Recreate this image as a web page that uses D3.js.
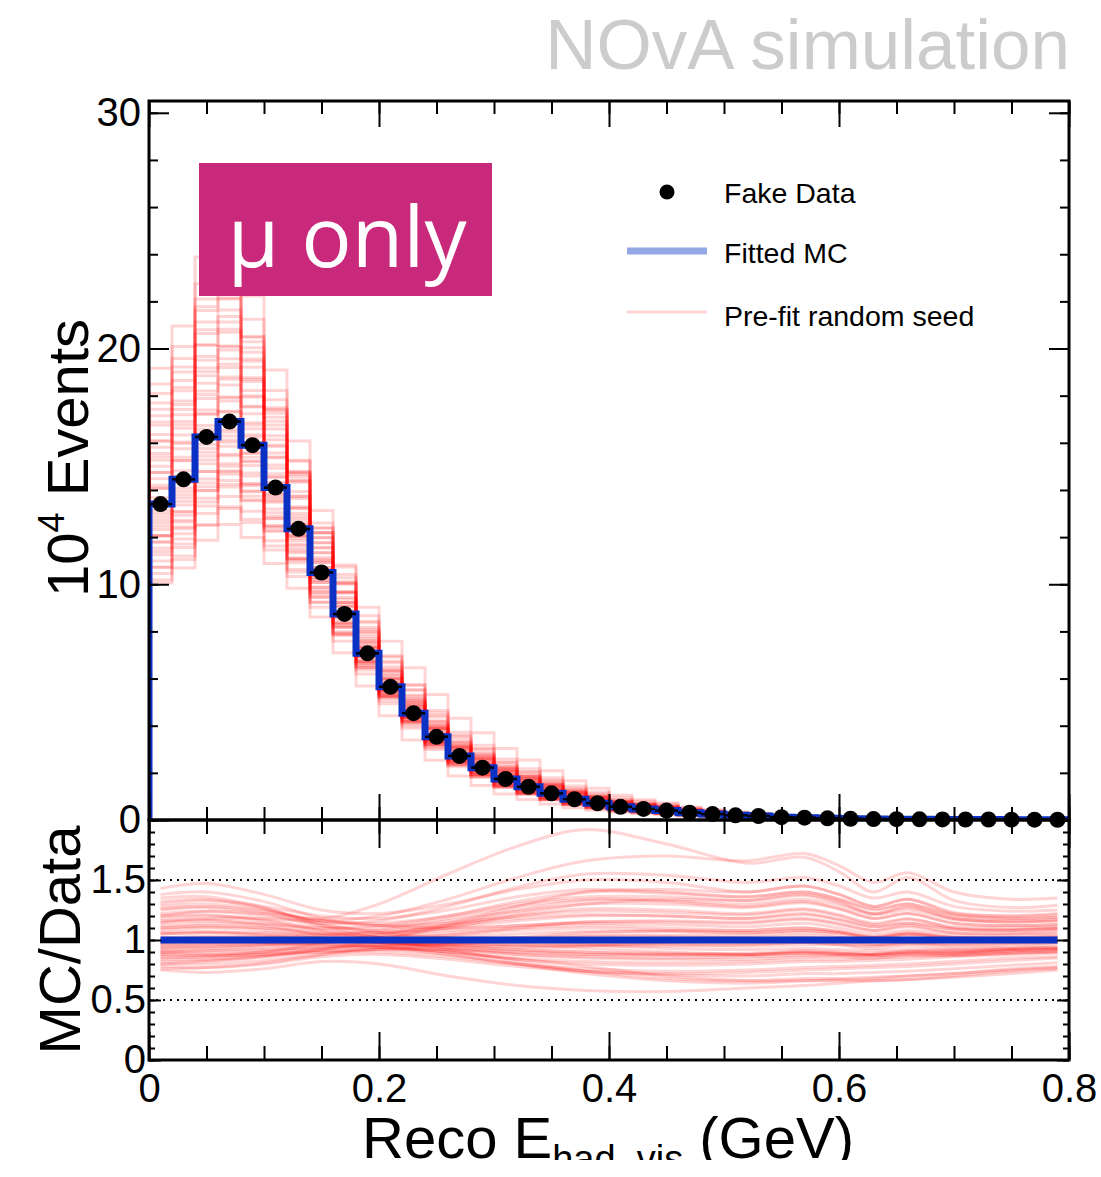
<!DOCTYPE html>
<html lang="en">
<head>
<meta charset="UTF-8">
<title>NOvA simulation - mu only</title>
<script src="https://d3js.org/d3.v7.min.js"></script>
<style>
    body { margin: 0; background: #fff; }
    svg text { font-family: "Liberation Sans", Arial, Helvetica, sans-serif; }
</style>
</head>
<body>
<svg id="chart" width="1101" height="1177"></svg>
<script>
// 40 bins of 0.02 GeV between 0 and 0.8, values in 10^4 events
const binWidth = 0.02;
const fakeData = [13.4, 14.45, 16.25, 16.9, 15.9, 14.1, 12.35, 10.5, 8.74, 7.07,
                  5.65, 4.53, 3.53, 2.72, 2.22, 1.74, 1.41, 1.13, 0.88, 0.71,
                  0.56, 0.47, 0.40, 0.31, 0.25, 0.20, 0.17, 0.12, 0.10, 0.07,
                  0.05, 0.04, 0.035, 0.03, 0.025, 0.02, 0.02, 0.015, 0.012, 0.01];
// fitted MC lies on the fake data (ratio 1 everywhere)
const fittedMC = fakeData.slice();

// pre-fit random seeds: MC/Data ratio read at these energies
const seedKnots = [0.01, 0.05, 0.10, 0.15, 0.20, 0.26, 0.32, 0.38, 0.45, 0.52, 0.57, 0.60, 0.63, 0.66, 0.70, 0.75, 0.79];
const seedRatios = [
    [1.43, 1.47, 1.38, 1.25, 1.22, 1.30, 1.42, 1.50, 1.48, 1.40, 1.45, 1.38, 1.28, 1.34, 1.22, 1.20, 1.22],
    [1.20, 1.24, 1.22, 1.18, 1.30, 1.55, 1.78, 1.92, 1.80, 1.64, 1.69, 1.57, 1.40, 1.52, 1.33, 1.27, 1.29],
    [0.75, 0.73, 0.76, 0.82, 0.80, 0.70, 0.62, 0.58, 0.57, 0.60, 0.62, 0.64, 0.66, 0.67, 0.70, 0.74, 0.76],
    [1.30, 1.33, 1.28, 1.20, 1.18, 1.25, 1.36, 1.42, 1.40, 1.36, 1.40, 1.34, 1.26, 1.30, 1.20, 1.18, 1.19],
    [1.35, 1.36, 1.27, 1.12, 1.02, 0.96, 0.94, 0.95, 0.98, 1.00, 1.02, 1.00, 0.96, 0.98, 0.95, 0.96, 0.98],
    [0.80, 0.82, 0.86, 0.92, 1.00, 1.12, 1.25, 1.33, 1.32, 1.28, 1.32, 1.26, 1.18, 1.22, 1.14, 1.12, 1.13],
    [1.10, 1.12, 1.10, 1.05, 1.03, 1.04, 1.08, 1.10, 1.08, 1.06, 1.08, 1.06, 1.02, 1.05, 1.02, 1.02, 1.03],
    [0.90, 0.89, 0.90, 0.93, 0.94, 0.90, 0.85, 0.82, 0.81, 0.82, 0.84, 0.84, 0.85, 0.86, 0.87, 0.89, 0.90],
    [1.25, 1.27, 1.22, 1.12, 1.08, 1.12, 1.18, 1.21, 1.20, 1.18, 1.22, 1.17, 1.11, 1.14, 1.09, 1.08, 1.10],
    [0.85, 0.86, 0.90, 0.97, 1.02, 1.06, 1.10, 1.12, 1.10, 1.08, 1.10, 1.07, 1.03, 1.06, 1.02, 1.01, 1.00],
    [1.05, 1.06, 1.04, 1.00, 0.96, 0.90, 0.84, 0.80, 0.79, 0.80, 0.82, 0.82, 0.83, 0.84, 0.86, 0.88, 0.89],
    [0.95, 0.96, 0.97, 0.98, 1.02, 1.10, 1.20, 1.26, 1.25, 1.22, 1.26, 1.21, 1.14, 1.18, 1.10, 1.09, 1.10],
    [1.15, 1.17, 1.14, 1.08, 1.06, 1.08, 1.12, 1.14, 1.13, 1.11, 1.14, 1.10, 1.05, 1.08, 1.04, 1.04, 1.05],
    [0.78, 0.77, 0.80, 0.86, 0.88, 0.84, 0.78, 0.74, 0.72, 0.73, 0.75, 0.76, 0.77, 0.78, 0.80, 0.83, 0.85],
    [1.38, 1.40, 1.32, 1.18, 1.12, 1.10, 1.12, 1.15, 1.15, 1.14, 1.17, 1.13, 1.08, 1.11, 1.06, 1.06, 1.08],
    [1.00, 1.01, 1.00, 0.99, 0.98, 0.97, 0.96, 0.95, 0.95, 0.95, 0.96, 0.96, 0.95, 0.97, 0.97, 0.98, 0.99],
    [0.88, 0.87, 0.88, 0.90, 0.90, 0.86, 0.80, 0.76, 0.74, 0.75, 0.77, 0.78, 0.79, 0.80, 0.82, 0.85, 0.86],
    [1.22, 1.24, 1.20, 1.14, 1.16, 1.28, 1.44, 1.55, 1.54, 1.48, 1.52, 1.45, 1.35, 1.40, 1.28, 1.24, 1.25],
    [0.92, 0.93, 0.95, 0.98, 1.00, 1.00, 0.99, 0.98, 0.97, 0.97, 0.98, 0.97, 0.96, 0.97, 0.96, 0.97, 0.98],
    [1.08, 1.10, 1.08, 1.02, 0.98, 0.94, 0.90, 0.88, 0.88, 0.88, 0.90, 0.89, 0.88, 0.90, 0.90, 0.92, 0.93],
    [0.82, 0.83, 0.86, 0.90, 0.92, 0.92, 0.90, 0.88, 0.87, 0.87, 0.89, 0.88, 0.88, 0.89, 0.89, 0.91, 0.92],
    [1.18, 1.20, 1.17, 1.10, 1.10, 1.18, 1.28, 1.34, 1.33, 1.30, 1.34, 1.29, 1.21, 1.25, 1.17, 1.15, 1.16],
    [0.98, 1.00, 1.01, 1.02, 1.05, 1.14, 1.28, 1.40, 1.42, 1.40, 1.45, 1.38, 1.28, 1.34, 1.23, 1.20, 1.21],
    [1.02, 1.03, 1.02, 1.00, 0.98, 0.95, 0.92, 0.90, 0.89, 0.89, 0.91, 0.90, 0.89, 0.91, 0.91, 0.93, 0.94],
    [0.86, 0.86, 0.88, 0.91, 0.92, 0.88, 0.80, 0.72, 0.66, 0.64, 0.66, 0.67, 0.68, 0.70, 0.72, 0.76, 0.78],
    [1.28, 1.30, 1.25, 1.16, 1.12, 1.14, 1.20, 1.24, 1.23, 1.21, 1.25, 1.20, 1.13, 1.17, 1.11, 1.10, 1.11],
    [0.94, 0.95, 0.96, 0.96, 0.95, 0.92, 0.88, 0.86, 0.85, 0.86, 0.87, 0.87, 0.87, 0.88, 0.88, 0.90, 0.91],
    [1.12, 1.14, 1.13, 1.10, 1.12, 1.20, 1.32, 1.40, 1.39, 1.36, 1.40, 1.34, 1.25, 1.30, 1.21, 1.18, 1.19],
    [0.80, 0.80, 0.83, 0.88, 0.92, 0.96, 1.00, 1.03, 1.03, 1.02, 1.04, 1.02, 0.99, 1.01, 0.99, 0.99, 1.00],
    [1.05, 1.06, 1.06, 1.05, 1.06, 1.10, 1.16, 1.20, 1.20, 1.18, 1.21, 1.17, 1.11, 1.14, 1.09, 1.08, 1.09],
    [1.32, 1.34, 1.26, 1.14, 1.06, 1.02, 1.02, 1.04, 1.04, 1.04, 1.06, 1.04, 1.00, 1.03, 1.00, 1.00, 1.02],
    [0.90, 0.91, 0.92, 0.94, 0.94, 0.90, 0.84, 0.78, 0.70, 0.66, 0.66, 0.66, 0.66, 0.67, 0.69, 0.72, 0.75],
    [1.16, 1.18, 1.18, 1.16, 1.20, 1.34, 1.52, 1.66, 1.70, 1.66, 1.72, 1.62, 1.48, 1.56, 1.40, 1.34, 1.35],
    [0.96, 0.97, 0.98, 0.99, 1.00, 1.02, 1.05, 1.07, 1.07, 1.06, 1.08, 1.06, 1.02, 1.05, 1.02, 1.02, 1.03],
    [0.84, 0.84, 0.87, 0.92, 0.96, 0.98, 0.98, 0.96, 0.93, 0.92, 0.93, 0.92, 0.91, 0.92, 0.92, 0.93, 0.94],
    [1.10, 1.11, 1.10, 1.06, 1.00, 0.92, 0.82, 0.74, 0.68, 0.66, 0.68, 0.68, 0.69, 0.70, 0.72, 0.75, 0.77],
    [1.00, 1.02, 1.03, 1.04, 1.08, 1.16, 1.24, 1.30, 1.30, 1.27, 1.31, 1.26, 1.18, 1.22, 1.14, 1.12, 1.13],
    [0.88, 0.88, 0.90, 0.94, 0.96, 0.95, 0.92, 0.90, 0.88, 0.88, 0.90, 0.89, 0.88, 0.90, 0.90, 0.92, 0.93],
    [1.14, 1.16, 1.12, 1.04, 0.98, 0.93, 0.88, 0.85, 0.84, 0.84, 0.86, 0.86, 0.85, 0.87, 0.87, 0.89, 0.90],
    [0.93, 0.94, 0.96, 0.99, 1.04, 1.12, 1.22, 1.30, 1.34, 1.33, 1.38, 1.32, 1.22, 1.28, 1.18, 1.15, 1.16],
    [1.20, 1.21, 1.16, 1.08, 1.02, 0.98, 0.96, 0.96, 0.96, 0.96, 0.98, 0.96, 0.93, 0.95, 0.93, 0.94, 0.96],
    [0.76, 0.77, 0.81, 0.88, 0.94, 0.98, 1.02, 1.06, 1.08, 1.08, 1.10, 1.07, 1.02, 1.05, 1.01, 1.01, 1.02],
    [1.06, 1.07, 1.05, 1.01, 0.98, 0.96, 0.95, 0.93, 0.90, 0.88, 0.89, 0.88, 0.87, 0.89, 0.89, 0.91, 0.92],
    [0.97, 0.98, 0.98, 0.97, 0.94, 0.88, 0.80, 0.74, 0.71, 0.70, 0.72, 0.72, 0.73, 0.74, 0.76, 0.79, 0.81],
    [1.26, 1.28, 1.24, 1.16, 1.14, 1.20, 1.30, 1.36, 1.36, 1.33, 1.37, 1.31, 1.22, 1.27, 1.18, 1.16, 1.17],
    [0.90, 0.91, 0.93, 0.96, 0.99, 1.04, 1.10, 1.15, 1.16, 1.15, 1.18, 1.14, 1.08, 1.12, 1.06, 1.05, 1.06]
];

const xTickLabels = [0, 0.2, 0.4, 0.6, 0.8];
const yTicksTop = [0, 10, 20, 30];
const yTicksRatio = [0, 0.5, 1, 1.5];
const ratioGuides = [0.5, 1.5];

const svg = d3.select("#chart");
const left = 149, right = 1069, topY = 101, midY = 820, botY = 1060;

const x = d3.scaleLinear().domain([0, 0.8]).range([left, right]);
const y = d3.scaleLinear().domain([0, 30.5]).range([midY, topY]);
const yr = d3.scaleLinear().domain([0, 2]).range([botY, midY]);

const blue = "#0b31c4";
const seedColor = "rgba(255,0,0,0.17)";

const defs = svg.append("defs");
defs.append("clipPath").attr("id", "clipTop")
    .append("rect").attr("x", left).attr("y", topY).attr("width", right - left).attr("height", midY - topY);
defs.append("clipPath").attr("id", "clipRatio")
    .append("rect").attr("x", left).attr("y", midY).attr("width", right - left).attr("height", botY - midY);
defs.append("clipPath").attr("id", "clipCanvas")
    .append("rect").attr("x", 0).attr("y", 0).attr("width", 1101).attr("height", 1160);

// histogram points for step paths
function stepPoints(vals) {
    const pts = [[0, 0]];
    vals.forEach((v, i) => pts.push([i * binWidth, v]));
    pts.push([vals.length * binWidth, vals[vals.length - 1]]);
    return pts;
}
const stepLine = d3.line().x(d => x(d[0])).y(d => y(d[1])).curve(d3.curveStepAfter);

// ---- top panel ----
const topG = svg.append("g").attr("clip-path", "url(#clipTop)");

seedRatios.forEach(r => {
    const rs = d3.scaleLinear().domain(seedKnots).range(r);
    const vals = fakeData.map((v, i) => v * rs((i + 0.5) * binWidth));
    topG.append("path")
        .attr("d", stepLine(stepPoints(vals)))
        .attr("fill", "none")
        .attr("stroke", seedColor)
        .attr("stroke-width", 3);
});

topG.append("path")
    .attr("d", stepLine(stepPoints(fittedMC)))
    .attr("fill", "none")
    .attr("stroke", blue)
    .attr("stroke-width", 7);

topG.selectAll(".xerr").data(fakeData).enter().append("line")
    .attr("x1", (d, i) => x(i * binWidth))
    .attr("x2", (d, i) => x((i + 1) * binWidth))
    .attr("y1", d => y(d)).attr("y2", d => y(d))
    .attr("stroke", "#000").attr("stroke-width", 2.5);

svg.selectAll(".pt").data(fakeData).enter().append("circle")
    .attr("cx", (d, i) => x((i + 0.5) * binWidth))
    .attr("cy", d => y(d))
    .attr("r", 8)
    .attr("fill", "#000");

// ---- ratio panel ----
const ratioG = svg.append("g").attr("clip-path", "url(#clipRatio)");

ratioG.selectAll(".guide").data(ratioGuides).enter().append("line")
    .attr("x1", left).attr("x2", right)
    .attr("y1", d => yr(d)).attr("y2", d => yr(d))
    .attr("stroke", "#000").attr("stroke-width", 2)
    .attr("stroke-dasharray", "2,5");

const ratioLine = d3.line().x(d => x(d[0])).y(d => yr(d[1])).curve(d3.curveCatmullRom);
seedRatios.forEach(r => {
    ratioG.append("path")
        .attr("d", ratioLine(seedKnots.map((k, i) => [k, r[i]])))
        .attr("fill", "none")
        .attr("stroke", seedColor)
        .attr("stroke-width", 3);
});

ratioG.append("path")
    .attr("d", d3.line().x(d => x(d[0])).y(d => yr(d[1]))(
        fittedMC.map((v, i) => [(i + 0.5) * binWidth, v / fakeData[i]])))
    .attr("fill", "none")
    .attr("stroke", blue)
    .attr("stroke-width", 7);

// ---- axes (ROOT style, ticks inside) ----
function ticks(axis, tx, ty, vals, size, labels, fontSize, pad) {
    const g = svg.append("g").attr("transform", `translate(${tx},${ty})`)
        .call(axis.tickValues(vals).tickSize(size).tickPadding(pad || 8)
            .tickFormat(labels ? (d => d3.format("~g")(d)) : ""));
    g.select(".domain").remove();
    g.selectAll("line").attr("stroke", "#000").attr("stroke-width", 2);
    g.selectAll("text").attr("font-size", fontSize || 40)
        .attr("font-family", '"Liberation Sans", Arial, sans-serif').attr("fill", "#000");
    return g;
}
const xMinor = d3.range(0, 0.8001, 0.05);

// top panel
ticks(d3.axisLeft(y), left, 0, d3.range(0, 31, 2), -9);
ticks(d3.axisLeft(y), left, 0, yTicksTop, -20, true);
ticks(d3.axisRight(y), right, 0, d3.range(0, 31, 2), -9);
ticks(d3.axisRight(y), right, 0, yTicksTop, -20);
ticks(d3.axisBottom(x), 0, midY, xMinor, -13);
ticks(d3.axisBottom(x), 0, midY, xTickLabels, -26);
ticks(d3.axisTop(x), 0, topY, xMinor, -13);
ticks(d3.axisTop(x), 0, topY, xTickLabels, -26);

// ratio panel
ticks(d3.axisLeft(yr), left, 0, d3.range(0, 2.001, 0.1), -6);
ticks(d3.axisLeft(yr), left, 0, yTicksRatio, -12, true).selectAll("text").attr("x", -3);
ticks(d3.axisRight(yr), right, 0, d3.range(0, 2.001, 0.1), -6);
ticks(d3.axisRight(yr), right, 0, yTicksRatio, -12);
ticks(d3.axisBottom(x), 0, botY, xMinor, -14);
ticks(d3.axisBottom(x), 0, botY, xTickLabels, -28, true, 40, 14);
ticks(d3.axisTop(x), 0, midY, xMinor, -14);
ticks(d3.axisTop(x), 0, midY, xTickLabels, -28);

// frames
svg.append("rect").attr("x", left).attr("y", topY).attr("width", right - left).attr("height", midY - topY)
    .attr("fill", "none").attr("stroke", "#000").attr("stroke-width", 3);
svg.append("rect").attr("x", left).attr("y", midY).attr("width", right - left).attr("height", botY - midY)
    .attr("fill", "none").attr("stroke", "#000").attr("stroke-width", 3);

// ---- axis titles ----
const yTitle = svg.append("text")
    .attr("transform", "translate(88,458) rotate(-90)")
    .attr("text-anchor", "middle")
    .attr("font-size", 58);
yTitle.append("tspan").text("10");
yTitle.append("tspan").attr("font-size", 36).attr("dy", -24).text("4");
yTitle.append("tspan").attr("dy", 24).text(" Events");

svg.append("text")
    .attr("transform", "translate(80,940) rotate(-90)")
    .attr("text-anchor", "middle")
    .attr("font-size", 58)
    .text("MC/Data");

const xTitle = svg.append("text")
    .attr("clip-path", "url(#clipCanvas)")
    .attr("x", 608).attr("y", 1158)
    .attr("text-anchor", "middle")
    .attr("font-size", 58);
xTitle.append("tspan").text("Reco E");
xTitle.append("tspan").attr("font-size", 38).attr("dy", 14).text("had, vis");
xTitle.append("tspan").attr("dy", -14).text(" (GeV)");

// ---- decorations ----
svg.append("text")
    .attr("x", 1070).attr("y", 69)
    .attr("text-anchor", "end")
    .attr("font-size", 71)
    .attr("fill", "#cccccc")
    .text("NOvA simulation");

svg.append("rect").attr("x", 199).attr("y", 163).attr("width", 293).attr("height", 133)
    .attr("fill", "#c9297a");
svg.append("text")
    .attr("x", 347).attr("y", 267)
    .attr("text-anchor", "middle")
    .attr("font-size", 84)
    .attr("fill", "#fff")
    .style("font-family", '"Open Sans", sans-serif')
    .text("μ only");

// legend
const legend = svg.append("g").attr("font-size", 28.5);
legend.append("circle").attr("cx", 667).attr("cy", 192).attr("r", 7.5).attr("fill", "#000");
legend.append("text").attr("x", 724).attr("y", 203).text("Fake Data");
legend.append("line").attr("x1", 627).attr("x2", 707).attr("y1", 251).attr("y2", 251)
    .attr("stroke", "#94a8e6").attr("stroke-width", 7);
legend.append("text").attr("x", 724).attr("y", 263).text("Fitted MC");
legend.append("line").attr("x1", 627).attr("x2", 707).attr("y1", 312).attr("y2", 312)
    .attr("stroke", "#ffd6d6").attr("stroke-width", 3);
legend.append("text").attr("x", 724).attr("y", 326).text("Pre-fit random seed");
</script>
</body>
</html>
